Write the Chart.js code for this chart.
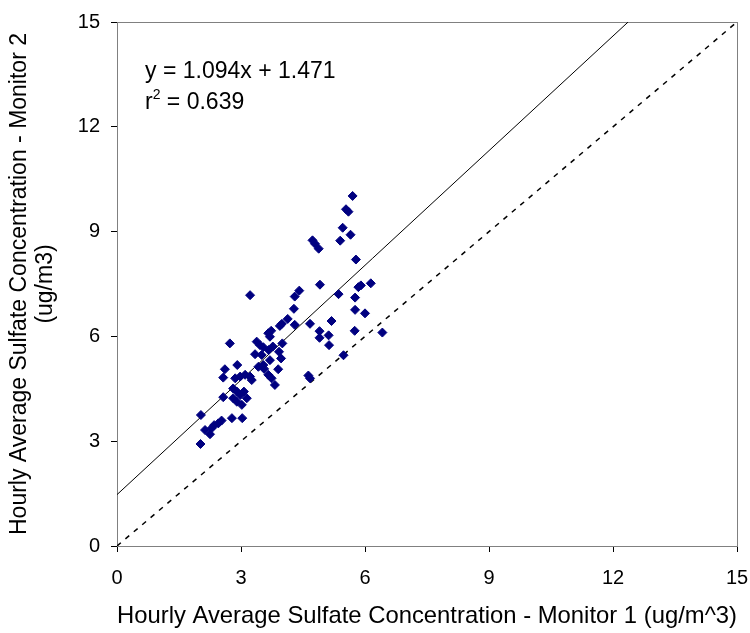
<!DOCTYPE html>
<html>
<head>
<meta charset="utf-8">
<script src="https://cdn.jsdelivr.net/npm/chart.js@4"></script>
<style>
  html, body { margin: 0; padding: 0; background: #fff; }
  #wrap { width: 750px; height: 633px; }
</style>
</head>
<body>
<div id="wrap"><canvas id="scatterChart" width="750" height="633"></canvas></div>
<script>
// monitor 1 vs monitor 2 hourly sulfate (ug/m3)
const monitor1 = [
  5.70, 5.54, 5.60, 5.46, 5.65, 5.40, 4.73, 4.79, 4.88, 5.78,
  4.91, 6.14, 5.90, 5.84, 4.41, 4.30, 5.36, 5.76, 4.28, 5.76,
  6.00, 5.19, 4.67, 4.30, 6.42, 5.75, 4.90, 5.12, 4.90, 5.13,
  5.48, 3.22, 2.73, 4.13, 3.99, 3.94, 3.73, 3.66, 3.70, 3.38,
  3.46, 3.54, 3.67, 3.77, 4.00, 3.34, 3.70, 2.91, 2.61, 3.90,
  3.92, 3.97, 3.54, 2.57, 2.86, 2.98, 3.10, 3.22, 3.26, 3.42,
  2.57, 2.81, 2.90, 2.98, 3.07, 2.81, 2.90, 3.02, 3.14, 2.03,
  2.78, 3.03, 2.53, 2.45, 2.35, 2.29, 2.13, 2.25, 2.02, 3.66,
  3.74, 3.82, 4.63, 4.67, 3.50, 3.56
];
const monitor2 = [
  10.02, 9.64, 9.57, 9.11, 8.91, 8.74, 8.75, 8.65, 8.51, 8.20,
  7.48, 7.52, 7.46, 7.41, 7.31, 7.14, 7.21, 7.11, 6.79, 6.76,
  6.66, 6.44, 6.36, 6.33, 6.11, 6.16, 6.15, 6.03, 5.96, 5.75,
  5.46, 7.18, 5.80, 6.50, 6.36, 6.30, 6.16, 6.09, 5.99, 5.85,
  5.75, 5.69, 5.61, 5.71, 5.80, 5.49, 5.32, 5.18, 5.06, 5.06,
  5.56, 5.37, 5.18, 4.82, 4.80, 4.85, 4.90, 4.85, 4.75, 5.13,
  4.26, 4.51, 4.42, 4.32, 4.42, 4.23, 4.13, 4.04, 4.23, 3.75,
  3.66, 3.66, 3.59, 3.51, 3.46, 3.37, 3.32, 3.20, 2.92, 4.90,
  4.80, 4.61, 4.88, 4.80, 5.47, 5.07
];

// fitted line y = 1.094x + 1.471 and the 1:1 line
const slope = 1.094;
const intercept = 1.471;
const fitX = [0, 12.367];
const oneToOneX = [0, 15];

const axisTicks = [0, 3, 6, 9, 12, 15];
const xTitle = "Hourly Average Sulfate Concentration - Monitor 1 (ug/m^3)";
const yTitle = ["Hourly Average Sulfate Concentration - Monitor 2", "(ug/m3)"];
const eqText = "y = 1.094x + 1.471";
const r2Value = "0.639";

const FONT = "'Liberation Sans', Arial, sans-serif";

const points = monitor1.map((x, i) => ({ x: x, y: monitor2[i] }));
const fitLine = fitX.map(x => ({ x: x, y: slope * x + intercept }));
const idLine = oneToOneX.map(x => ({ x: x, y: x }));

// grey plot box behind the axes + the equation text
const boxPlugin = {
  id: "box",
  beforeDatasetsDraw(chart) {
    const { ctx, chartArea: a } = chart;
    ctx.save();
    ctx.strokeStyle = "#808080";
    ctx.lineWidth = 1;
    ctx.strokeRect(a.left + 0.5, a.top + 0.5, a.right - a.left, a.bottom - a.top);
    ctx.restore();
  },
  afterDraw(chart) {
    const { ctx } = chart;
    const x = chart.scales.x.getPixelForValue(0) + 28;
    ctx.save();
    ctx.fillStyle = "#000";
    ctx.textBaseline = "alphabetic";
    ctx.font = "23px " + FONT;
    ctx.fillText(eqText, x, 78);
    ctx.fillText("r", x, 109);
    const rw = ctx.measureText("r").width;
    ctx.font = "14px " + FONT;
    ctx.fillText("2", x + rw, 99);
    const sw = ctx.measureText("2").width;
    ctx.font = "23px " + FONT;
    ctx.fillText(" = " + r2Value, x + rw + sw, 109);
    ctx.restore();
  }
};

const ctx = document.getElementById("scatterChart").getContext("2d");

const scatterChart = new Chart(ctx, {
  type: "scatter",
  data: {
    datasets: [
      {
        label: "data",
        data: points,
        pointStyle: "rectRot",
        pointRadius: 4.5,
        backgroundColor: "#000080",
        borderColor: "#000080",
        borderWidth: 1
      },
      {
        label: "fit",
        data: fitLine,
        showLine: true,
        pointRadius: 0,
        borderColor: "#000",
        borderWidth: 1
      },
      {
        label: "1:1",
        data: idLine,
        showLine: true,
        pointRadius: 0,
        borderColor: "#000",
        borderWidth: 1.5,
        borderDash: [5, 6]
      }
    ]
  },
  options: {
    responsive: false,
    animation: false,
    layout: { padding: { top: 22, right: 13, left: 0, bottom: 0 } },
    plugins: { legend: { display: false }, tooltip: { enabled: false } },
    scales: {
      x: {
        type: "linear",
        min: 0, max: 15,
        afterBuildTicks(scale) { scale.ticks = axisTicks.map(v => ({ value: v })); },
        afterFit(scale) {
          scale.height = 87;
          scale.paddingLeft = 0;
          scale.paddingRight = 0;
        },
        grid: { drawOnChartArea: false, drawTicks: true, tickLength: 6, color: "#000" },
        border: { display: true, color: "#000", width: 1 },
        ticks: { color: "#000", padding: 14, font: { family: FONT, size: 20 } },
        title: {
          display: true, text: xTitle, color: "#000",
          font: { family: FONT, size: 24 }, padding: { top: 0, bottom: 2 }
        }
      },
      y: {
        type: "linear",
        min: 0, max: 15,
        afterBuildTicks(scale) { scale.ticks = axisTicks.map(v => ({ value: v })); },
        afterFit(scale) {
          scale.width = 117;
          scale.paddingTop = 0;
          scale.paddingBottom = 0;
        },
        grid: { drawOnChartArea: false, drawTicks: true, tickLength: 6, color: "#000" },
        border: { display: true, color: "#000", width: 1 },
        ticks: { color: "#000", padding: 11, font: { family: FONT, size: 20 } },
        title: {
          display: true, text: yTitle, color: "#000",
          font: { family: FONT, size: 23, lineHeight: 1.13 }, padding: { top: 7, bottom: 0 }
        }
      }
    }
  },
  plugins: [boxPlugin]
});
</script>
</body>
</html>
